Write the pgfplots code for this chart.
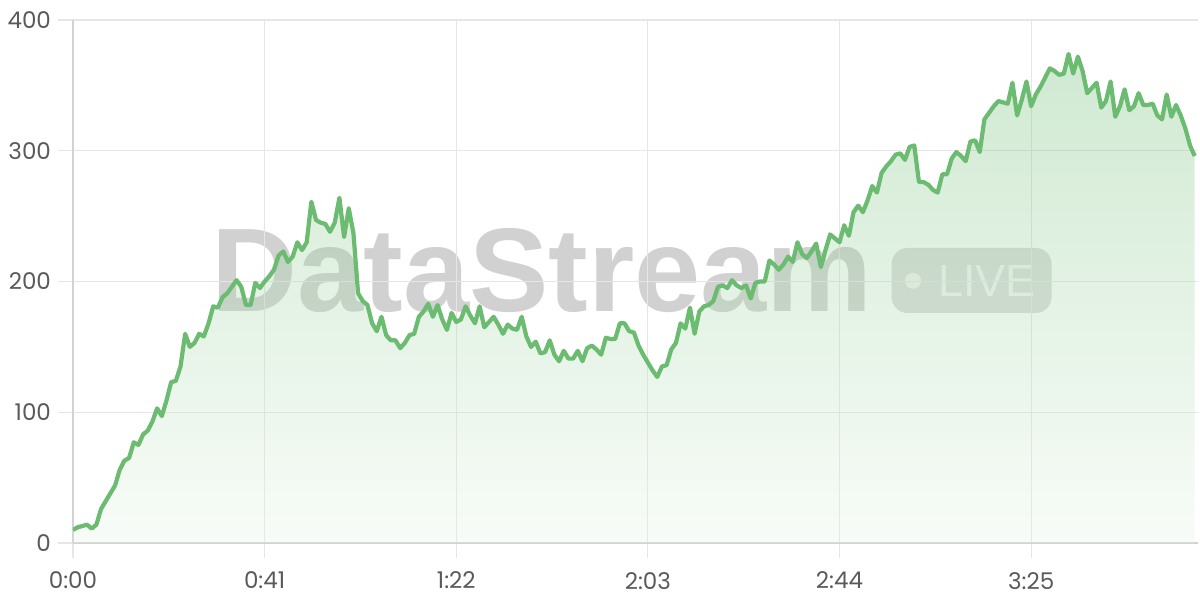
\documentclass[border=0pt]{standalone}
\usepackage{fontspec}
\usepackage{pgfplots}
\usepackage{pgfplotstable}
\pgfplotsset{compat=1.18}
\setmainfont{Poppins}
\newfontfamily\wmfont{Liberation Sans}

\definecolor{linec}{HTML}{6BBB70}
\definecolor{gridc}{HTML}{E6E6E6}
\definecolor{axisc}{HTML}{D2D2D2}
\definecolor{labc}{HTML}{5A5A5A}

% seconds, value
\pgfplotstableread{
t v
0 10
1 12
2 13
3 14
4 11
5 14
6 26
7 32
8 38
9 44
10 56
11 63
12 65
13 77
14 75
15 83
16 86
17 93
18 103
19 97
20 109
21 123
22 124
23 135
24 160
25 150
26 153
27 160
28 158
29 168
30 181
31 180
32 188
33 191
34 196
35 201
36 196
37 182
38 182
39 199
40 195
41 200
42 204
43 209
44 220
45 223
46 215
47 219
48 230
49 224
50 230
51 261
52 247
53 245
54 244
55 238
56 245
57 264
58 234
59 256
60 237
61 191
62 185
63 182
64 168
65 162
66 173
67 159
68 155
69 155
70 149
71 153
72 159
73 160
74 173
75 177
76 183
77 173
78 182
79 171
80 163
81 176
82 169
83 171
84 181
85 174
86 168
87 181
88 165
89 169
90 173
91 167
92 160
93 167
94 164
95 163
96 173
97 158
98 150
99 154
100 145
101 146
102 155
103 144
104 139
105 147
106 141
107 141
108 147
109 139
110 149
111 151
112 148
113 144
114 157
115 156
116 156
117 168
118 168
119 162
120 161
121 151
122 144
123 138
124 132
125 127
126 135
127 136
128 148
129 153
130 168
131 164
132 180
133 160
134 177
135 181
136 182
137 185
138 196
139 197
140 195
141 201
142 197
143 195
144 197
145 187
146 199
147 200
148 200
149 216
150 213
151 209
152 213
153 219
154 215
155 230
156 221
157 218
158 223
159 229
160 211
161 224
162 236
163 233
164 230
165 243
166 235
167 253
168 258
169 253
170 262
171 273
172 268
173 283
174 288
175 292
176 297
177 298
178 293
179 303
180 304
181 276
182 276
183 274
184 270
185 268
186 282
187 282
188 294
189 299
190 296
191 292
192 307
193 308
194 299
195 324
196 329
197 334
198 338
199 337
200 336
201 352
202 327
203 339
204 353
205 334
206 343
207 349
208 356
209 363
210 361
211 358
212 359
213 374
214 359
215 372
216 361
217 344
218 348
219 352
220 333
221 338
222 353
223 326
224 334
225 347
226 331
227 334
228 344
229 335
230 335
231 336
232 327
233 324
234 343
235 326
236 335
237 327
238 317
239 304
240 296
}\stream

\begin{document}
\begin{tikzpicture}
\useasboundingbox (0,0) rectangle (600pt,300pt);

% watermark
\node[anchor=base west, inner sep=0, text=black, text opacity=0.18,
  font=\wmfont\bfseries\fontsize{59.5}{59.5}\selectfont] at (105.5pt,144pt) {DataStream};
\fill[black, opacity=0.14, rounded corners=8pt] (445.8pt,143.5pt) rectangle (525.8pt,176pt);
\fill[white, opacity=0.7] (456.5pt,159.6pt) circle (4pt);
\node[anchor=base west, inner sep=0, text=white, text opacity=0.72,
  font=\wmfont\fontsize{22.5}{22.5}\selectfont] at (469pt,151.5pt) {LIVE};

\begin{axis}[
  at={(36.5pt,28.5pt)}, anchor=south west,
  scale only axis, width=562.5pt, height=261.5pt,
  xmin=0, xmax=240.7, ymin=0, ymax=400,
  xtick={0,41,82,123,164,205},
  xticklabels={0:00,0:41,1:22,2:03,2:44,3:25},
  ytick={0,100,200,300,400},
  grid=major,
  major grid style={draw=gridc, line width=0.6pt},
  axis x line*=bottom, axis y line*=left,
  axis line style={draw=axisc, line width=0.8pt, -},
  tick align=outside, major tick length=7.5pt,
  tick style={draw=gridc, line width=0.6pt},
  ticklabel style={font=\fontsize{11.5}{11.5}\selectfont, text=labc},
  xticklabel style={yshift=-3.5pt},
  /pgf/number format/assume math mode=true,
]
\addplot[draw=none, top color=linec, bottom color=linec!15!white, fill opacity=0.32]
  table[x=t, y=v] {\stream} \closedcycle;
\addplot[color=linec, line width=2.1pt, line join=round, mark=none]
  table[x=t, y=v] {\stream};
\end{axis}
\end{tikzpicture}
\end{document}
